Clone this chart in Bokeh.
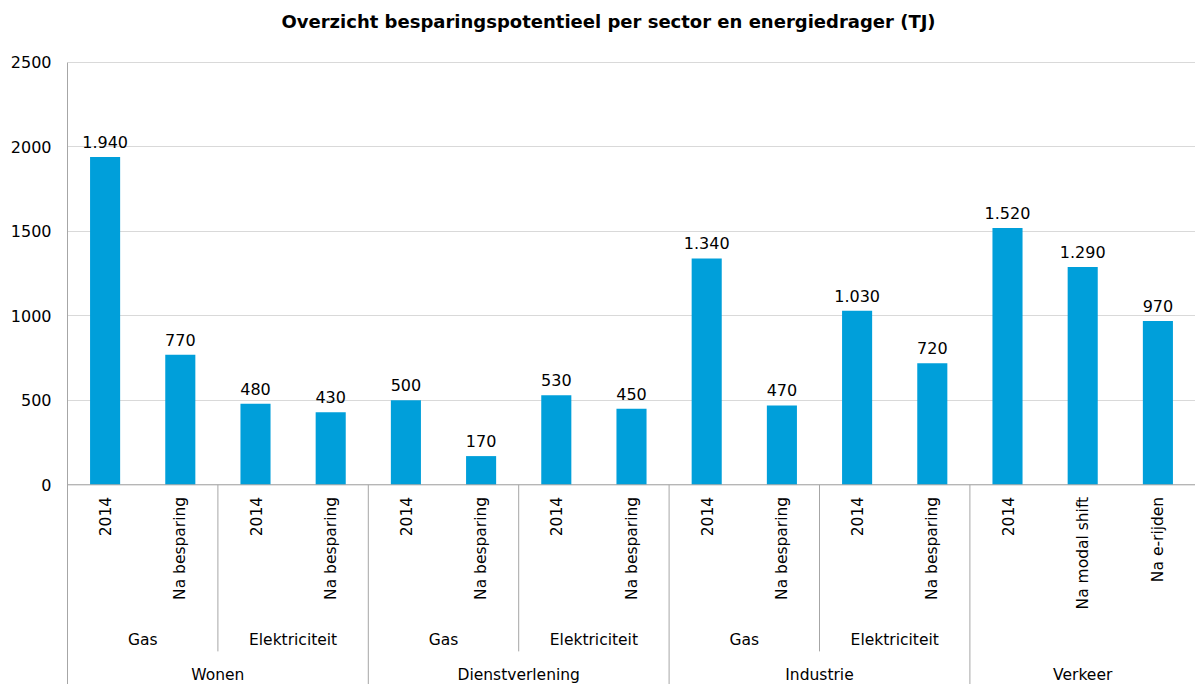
import math
from bokeh.plotting import figure
from bokeh.models import Range1d, FixedTicker, ColumnDataSource
from bokeh.core.properties import value
from bokeh.embed import file_html
from bokeh.resources import INLINE

# ---- data ----
bar_labels = ["2014", "Na besparing", "2014", "Na besparing",
              "2014", "Na besparing", "2014", "Na besparing",
              "2014", "Na besparing", "2014", "Na besparing",
              "2014", "Na modal shift", "Na e-rijden"]
values = [1940, 770, 480, 430, 500, 170, 530, 450, 1340, 470, 1030, 720, 1520, 1290, 970]
subgroups = ["Gas", "Elektriciteit", "Gas", "Elektriciteit", "Gas", "Elektriciteit"]
subgroup_sizes = [2, 2, 2, 2, 2, 2]
groups = ["Wonen", "Dienstverlening", "Industrie", "Verkeer"]
group_sizes = [4, 4, 4, 3]
y_ticks = [0, 500, 1000, 1500, 2000, 2500]

FONT = "DejaVu Sans"
FS = "15.5px"
BAR = "#009fda"
LINE = "#a6a6a6"
n = len(values)
Y_BOTTOM = -1182
Y_TOP = 2636

p = figure(width=1195, height=684, x_range=Range1d(0, n), y_range=Range1d(Y_BOTTOM, Y_TOP),
           output_backend="svg", toolbar_location=None, x_axis_location=None,
           min_border_left=67, min_border_right=0, min_border_bottom=0, min_border_top=0)
p.outline_line_color = None
p.background_fill_color = "white"
p.border_fill_color = "white"
p.xgrid.visible = False

p.title.text = "Overzicht besparingspotentieel per sector en energiedrager (TJ)"
p.title.align = "left"
p.title.offset = 214
p.title.standoff = 16
p.title.text_font = FONT
p.title.text_font_size = "18px"
p.title.text_font_style = "bold"
p.title.text_color = "#000000"

p.yaxis.ticker = FixedTicker(ticks=y_ticks)
p.yaxis.bounds = (Y_BOTTOM, max(y_ticks))
p.yaxis.major_tick_line_color = None
p.yaxis.minor_tick_line_color = None
p.yaxis.major_tick_out = 0
p.yaxis.major_label_standoff = 16
p.yaxis.axis_line_color = LINE
p.yaxis.major_label_text_font = FONT
p.yaxis.major_label_text_font_size = "16px"
p.yaxis.major_label_text_color = "#000000"
p.ygrid.grid_line_color = "#d9d9d9"

xs = [i + 0.5 for i in range(n)]
src = ColumnDataSource(dict(x=xs, top=values,
                            lbl=[f"{v:,}".replace(",", ".") for v in values],
                            cat=bar_labels))
p.vbar(x="x", top="top", bottom=0, width=0.4, source=src, fill_color=BAR, line_color=None)
p.text(x="x", y="top", text="lbl", source=src, text_align="center", text_baseline="bottom",
       y_offset=-9, text_font=value(FONT), text_font_size="16px", text_color="#000000")

# x axis baseline
p.segment(x0=[0], y0=[0], x1=[n], y1=[0], line_color=LINE, line_width=1)

# bar category labels (rotated)
p.text(x="x", y=-71, text="cat", source=src, angle=math.pi / 2, text_align="right",
       text_baseline="middle", text_font=value(FONT), text_font_size=FS, text_color="#000000")

# subgroup labels and separators
sg_x, sg_sep, pos = [], [], 0
for s in subgroup_sizes:
    sg_x.append(pos + s / 2)
    pos += s
    sg_sep.append(pos)
p.text(x=sg_x, y=-920, text=subgroups, text_align="center", text_baseline="middle",
       text_font=value(FONT), text_font_size=FS, text_color="#000000")
group_ends = [sum(group_sizes[:k + 1]) for k in range(len(group_sizes))]
sub_only = [s for s in sg_sep if s not in group_ends]
p.segment(x0=sub_only, y0=[0] * len(sub_only), x1=sub_only, y1=[-986] * len(sub_only),
          line_color=LINE, line_width=1)

# group labels and separators
g_x, pos = [], 0
for s in group_sizes:
    g_x.append(pos + s / 2)
    pos += s
p.text(x=g_x, y=-1128, text=groups, text_align="center", text_baseline="middle",
       text_font=value(FONT), text_font_size=FS, text_color="#000000")
gs = group_ends[:-1]
p.segment(x0=gs, y0=[0] * len(gs), x1=gs, y1=[Y_BOTTOM] * len(gs), line_color=LINE, line_width=1)

open("out.html", "w").write(file_html(p, INLINE))
